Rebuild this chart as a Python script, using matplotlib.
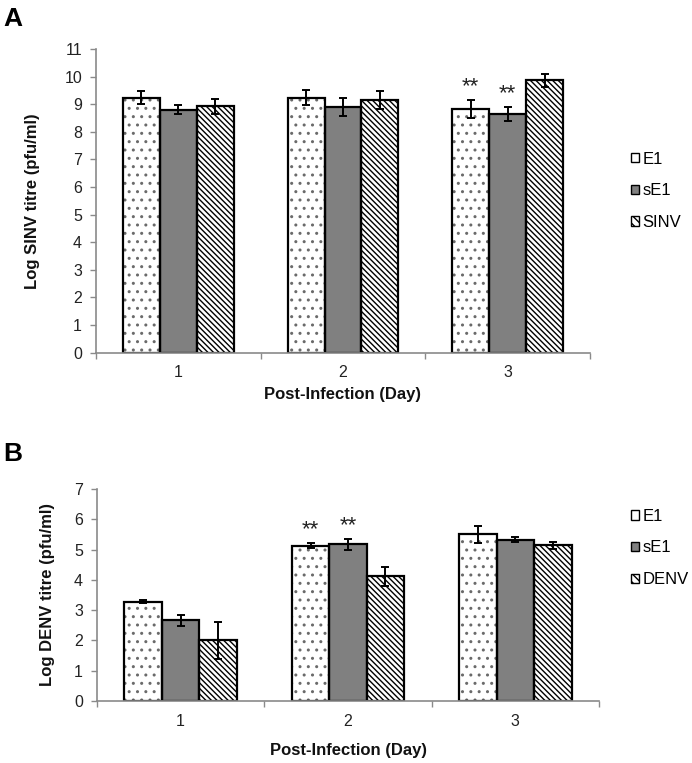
import numpy as np
import matplotlib
import matplotlib.pyplot as plt
from matplotlib.patches import Patch

matplotlib.use("Agg")
matplotlib.rcParams["font.family"] = ["Liberation Sans", "DejaVu Sans"]
matplotlib.rcParams["hatch.linewidth"] = 1.0
matplotlib.rcParams["hatch.color"] = "black"

days = ["1", "2", "3"]

# panel A: SINV titres
sinv_groups = ["E1", "sE1", "SINV"]
sinv_e1 = [9.24, 9.24, 8.83]
sinv_e1_err = [0.23, 0.28, 0.33]
sinv_se1 = [8.80, 8.91, 8.65]
sinv_se1_err = [0.16, 0.32, 0.24]
sinv_sinv = [8.92, 9.15, 9.86]
sinv_sinv_err = [0.28, 0.34, 0.25]
sinv_stars = [(2, 0), (2, 1)]  # (day index, series index)

# panel B: DENV titres
denv_groups = ["E1", "sE1", "DENV"]
denv_e1 = [3.28, 5.13, 5.50]
denv_e1_err = [0.04, 0.09, 0.29]
denv_se1 = [2.66, 5.18, 5.33]
denv_se1_err = [0.19, 0.18, 0.09]
denv_denv = [2.00, 4.12, 5.14]
denv_denv_err = [0.60, 0.31, 0.12]
denv_stars = [(1, 0), (1, 1)]

# fill / hatch / hatch colour for each series (legend uses a coarser hatch)
STYLES = [
    dict(facecolor="white", hatch="..", leg_hatch=".", hcolor="#6a6a6a"),
    dict(facecolor="#808080", hatch=None, leg_hatch=None, hcolor="black"),
    dict(facecolor="white", hatch="\\" * 6, leg_hatch="\\" * 4, hcolor="black"),
]
AXIS_GREY = "#8a8a8a"


def hatched_bar(ax, x, h, width, style, lw):
    # fill + hatch first (hatch takes the edge colour), then a black outline
    with matplotlib.rc_context({"hatch.color": style["hcolor"]}):
        ax.bar(x, h, width, facecolor=style["facecolor"], hatch=style["hatch"],
               edgecolor=style["hcolor"], linewidth=0, zorder=2)
    ax.bar(x, h, width, fill=False, edgecolor="black", linewidth=lw, zorder=2.5)


def draw_panel(ax, means, errs, labels, stars, ymax, ylabel, ylabel_x, xlabel_y):
    x = np.arange(len(days))
    width = 0.224
    for i, (m, e) in enumerate(zip(means, errs)):
        hatched_bar(ax, x + (i - 1) * width, m, width, STYLES[i], 1.6)
        ax.errorbar(
            x + (i - 1) * width,
            m,
            yerr=e,
            fmt="none",
            ecolor="black",
            elinewidth=1.4,
            capsize=3.2,
            capthick=1.4,
            zorder=3,
        )
    for day_i, ser_i in stars:
        ax.annotate(
            "**",
            xy=(day_i + (ser_i - 1) * width, means[ser_i][day_i] + errs[ser_i][day_i]),
            xytext=(0, 2),
            textcoords="offset points",
            ha="center",
            va="bottom",
            fontsize=16,
            color="#222222",
        )

    ax.set_xlim(-0.5, len(days) - 0.5)
    ax.set_ylim(0, ymax)
    ax.set_yticks(range(0, ymax + 1))
    ax.set_xticks(np.arange(len(days) + 1) - 0.5)
    ax.set_xticklabels([])
    ax.set_xticks(x, minor=True)
    ax.set_xticklabels(days, minor=True)
    ax.tick_params(axis="x", which="major", direction="out", length=4,
                   width=1, colors=AXIS_GREY)
    ax.tick_params(axis="x", which="minor", length=0, pad=9,
                   labelsize=11.5, labelcolor="#222222")
    ax.tick_params(axis="y", direction="out", length=4, width=1,
                   colors=AXIS_GREY, labelcolor="#222222", labelsize=11.5, pad=6)
    for side in ["top", "right"]:
        ax.spines[side].set_visible(False)
    for side in ["left", "bottom"]:
        ax.spines[side].set_color(AXIS_GREY)
        ax.spines[side].set_linewidth(1.2)

    ax.set_ylabel(ylabel, fontsize=12, fontweight="bold", color="#111111")
    ax.yaxis.set_label_coords(ylabel_x, 0.5)
    ax.set_xlabel("Post-Infection (Day)", fontsize=12, fontweight="bold",
                  color="#111111")
    ax.xaxis.set_label_coords(0.5, xlabel_y)

    handles = []
    for i, lab in enumerate(labels):
        with matplotlib.rc_context({"hatch.color": "black"}):
            handles.append(Patch(facecolor=STYLES[i]["facecolor"],
                                 hatch=STYLES[i]["leg_hatch"],
                                 edgecolor="black", linewidth=1.0, label=lab))
    return handles


def main():
    fig = plt.figure(figsize=(6.92, 7.63), dpi=100)

    ax_a = fig.add_axes([96 / 692, 1 - 352.7 / 763, 494 / 692, 303.7 / 763])
    handles_a = draw_panel(
        ax_a,
        [sinv_e1, sinv_se1, sinv_sinv],
        [sinv_e1_err, sinv_se1_err, sinv_sinv_err],
        sinv_groups,
        sinv_stars,
        11,
        "Log SINV titre (pfu/ml)",
        -0.113,
        -0.114,
    )

    ax_b = fig.add_axes([97 / 692, 1 - 701 / 763, 502 / 692, 212 / 763])
    handles_b = draw_panel(
        ax_b,
        [denv_e1, denv_se1, denv_denv],
        [denv_e1_err, denv_se1_err, denv_denv_err],
        denv_groups,
        denv_stars,
        7,
        "Log DENV titre (pfu/ml)",
        -0.084,
        -0.199,
    )

    for handles, yc in [(handles_a, 1 - 190.7 / 763), (handles_b, 1 - 548 / 763)]:
        fig.legend(
            handles=handles,
            loc="center left",
            bbox_to_anchor=(631 / 692, yc),
            frameon=False,
            fontsize=12,
            handlelength=0.5,
            handleheight=0.5,
            handletextpad=0.2,
            labelspacing=1.0,
            borderpad=0,
            borderaxespad=0,
        )

    fig.text(3 / 692, 1 - 26 / 763, "A", fontsize=19, fontweight="bold")
    fig.text(3 / 692, 1 - 461 / 763, "B", fontsize=19, fontweight="bold")

    fig.savefig("out.png", dpi=100)


if __name__ == "__main__":
    main()
